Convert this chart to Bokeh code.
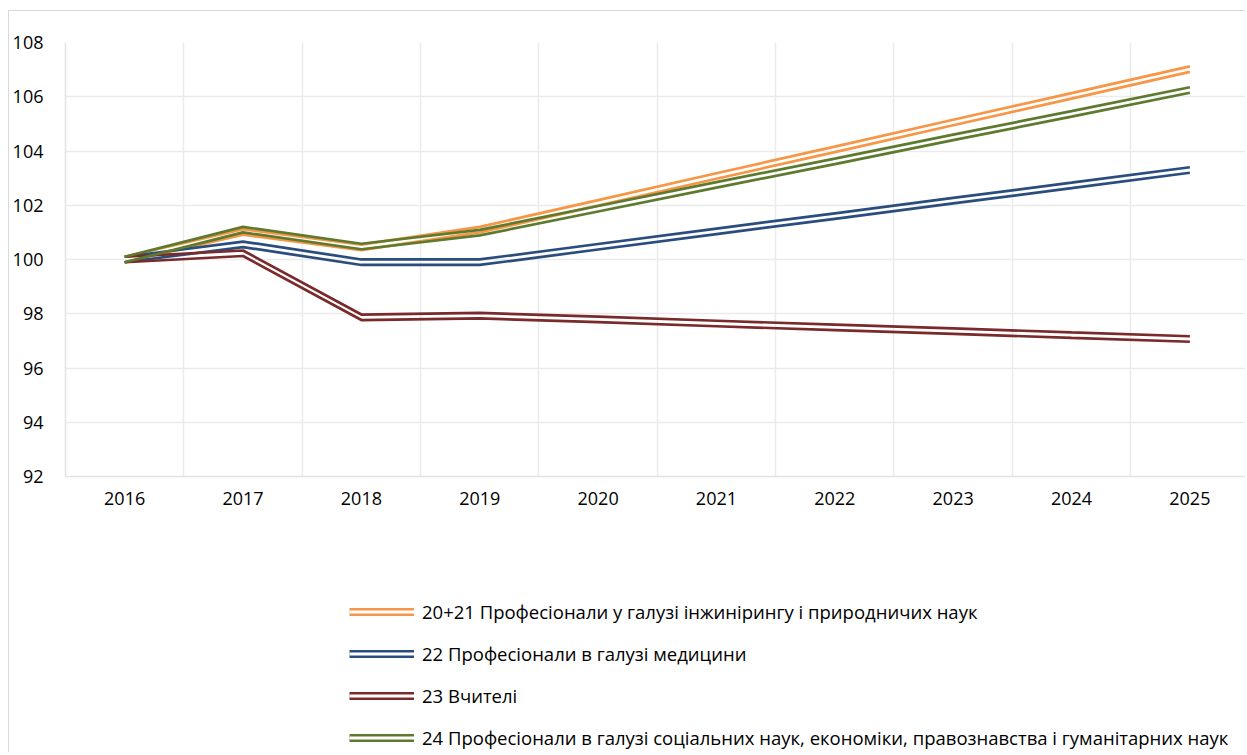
from bokeh.plotting import figure
from bokeh.layouts import column
from bokeh.models import Range1d, FixedTicker, Legend, LegendItem
from bokeh.embed import file_html
from bokeh.resources import INLINE

years = ["2016", "2017", "2018", "2019", "2020", "2021", "2022", "2023", "2024", "2025"]
eng = [100.0, 101.02, 100.45, 101.10, 102.09, 103.08, 104.06, 105.05, 106.03, 107.02]
med = [100.0, 100.56, 99.90, 99.90, 100.47, 101.04, 101.60, 102.17, 102.73, 103.30]
teach = [100.0, 100.23, 97.87, 97.93, 97.79, 97.64, 97.50, 97.36, 97.21, 97.07]
soc = [100.0, 101.10, 100.48, 100.99, 101.87, 102.75, 103.62, 104.50, 105.37, 106.25]

labels = [
    "20+21 Професіонали у галузі інжинірингу і природничих наук",
    "22 Професіонали в галузі медицини",
    "23 Вчителі",
    "24 Професіонали в галузі соціальних наук, економіки, правознавства і гуманітарних наук",
]
colors = ["#F79646", "#2A4D7D", "#7A2A2A", "#5E7A2E"]
series = [eng, med, teach, soc]

FONT = "Open Sans"
x = list(range(len(years)))

W = 1236
p = figure(width=W, height=525, x_range=Range1d(-0.5, 9.47), y_range=Range1d(92, 108),
           output_backend="svg", toolbar_location=None,
           min_border_left=56, min_border_right=0, min_border_top=31, min_border_bottom=60)
p.outline_line_color = None

# axes
p.yaxis.ticker = FixedTicker(ticks=[92, 94, 96, 98, 100, 102, 104, 106, 108])
p.xaxis.ticker = FixedTicker(ticks=x)
p.xaxis.major_label_overrides = {i: y for i, y in enumerate(years)}
for ax in (p.xaxis[0], p.yaxis[0]):
    ax.axis_line_color = "#e3e3e3"
    ax.axis_line_width = 1.5
    ax.major_tick_line_color = None
    ax.minor_tick_line_color = None
    ax.major_tick_out = 0
    ax.major_tick_in = 0
    ax.minor_tick_out = 0
    ax.major_label_text_font = FONT
    ax.major_label_text_font_size = "18px"
    ax.major_label_text_color = "#000000"
p.yaxis.major_label_standoff = 22
p.xaxis.major_label_standoff = 15

p.xgrid.ticker = FixedTicker(ticks=[i + 0.5 for i in range(9)])
p.xgrid.grid_line_color = "#ebebeb"
p.xgrid.grid_line_width = 1.5
p.ygrid.grid_line_color = "#ebebeb"
p.ygrid.grid_line_width = 1.5

# double (compound) lines: two thin strokes with a transparent gap
off = 2.75 / 27.125
for col, vals in zip(colors, series):
    hi = [v + off for v in vals]
    lo = [v - off for v in vals]
    p.line(x, hi, line_color=col, line_width=2.7)
    p.line(x, lo, line_color=col, line_width=2.7)

# legend in its own figure below the chart (its renderers lie outside its ranges)
lf = figure(width=W, height=216, x_range=Range1d(-100, -99), y_range=Range1d(0, 1),
            output_backend="svg", toolbar_location=None,
            x_axis_type=None, y_axis_type=None,
            min_border_left=0, min_border_right=0, min_border_top=0, min_border_bottom=0)
lf.outline_line_color = None
lf.xgrid.visible = False
lf.ygrid.visible = False
items = []
for lab, col, vals in zip(labels, colors, series):
    r1 = lf.line(x, vals, line_color=col, line_width=8)
    r2 = lf.line(x, vals, line_color="white", line_width=2.8)
    items.append(LegendItem(label=lab, renderers=[r1, r2]))
legend = Legend(items=items, location=(284, 2), orientation="vertical",
                glyph_width=65, glyph_height=25, label_height=25, label_standoff=8,
                spacing=17, padding=0, margin=0, border_line_color=None,
                background_fill_alpha=0, label_text_font=FONT,
                label_text_font_size="18.5px", label_text_color="#000000")
lf.add_layout(legend, "center")

layout = column(p, lf, spacing=0)
layout.styles = {"margin-left": "8px", "margin-top": "10px",
                 "border-left": "1.5px solid #d9d9d9", "border-top": "1.5px solid #d9d9d9"}

open("out.html", "w").write(file_html(layout, INLINE))
